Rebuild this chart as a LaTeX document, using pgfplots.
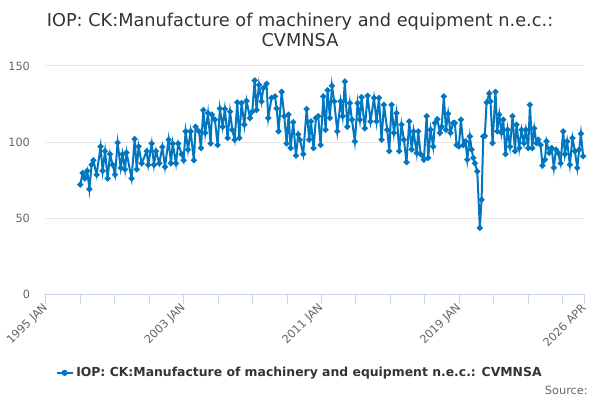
\documentclass[border=0pt]{standalone}
\usepackage{fontspec}
\setmainfont{DejaVu Sans}
\usepackage{pgfplots}
\pgfplotsset{compat=1.18}
\definecolor{linecol}{RGB}{0,119,192}
\definecolor{gridcol}{RGB}{230,230,230}
\definecolor{axiscol}{RGB}{204,214,235}
\definecolor{labcol}{RGB}{102,102,102}
\definecolor{titcol}{RGB}{51,51,51}
\begin{document}
\begin{tikzpicture}[x=1pt,y=1pt]
\useasboundingbox (0,0) rectangle (450,300);
\node[font=\fontsize{13.3}{15.5}\selectfont, text=titcol, align=center] at (225,277.5)
  {IOP: CK:Manufacture of machinery and equipment n.e.c.:\\CVMNSA};
\begin{axis}[
  at={(34.5pt,79.5pt)}, anchor=south west,
  scale only axis, width=403.5pt, height=171pt,
  xmin=1995, xmax=2026.25, ymin=0, ymax=150,
  /pgf/number format/assume math mode=true,
  axis x line*=bottom, axis y line*=left,
  y axis line style={draw=none},
  x axis line style={draw=axiscol, line width=0.75pt, -},
  ytick={0,50,100,150},
  ymajorgrids, grid style={gridcol, line width=0.75pt},
  ytick style={draw=none},
  yticklabel style={font=\fontsize{8.5}{10}\selectfont, text=labcol, xshift=-1pt},
  xtick={1995,2003,2011,2019,2026.25},
  xticklabels={1995 JAN,2003 JAN,2011 JAN,2019 JAN,2026 APR},
  minor xtick={1997,1999,2001,2005,2007,2009,2013,2015,2017,2021,2023,2025},
  xtick style={draw=axiscol, line width=0.75pt},
  tick align=outside, major tick length=7.5pt, minor tick length=7.5pt,
  xticklabel style={font=\fontsize{8.5}{10}\selectfont, text=labcol, rotate=45, anchor=east, inner sep=1pt, yshift=-1pt},
  legend style={at={(0.472,-0.346)}, anchor=center, draw=none, fill=none,
    font=\bfseries\fontsize{9.3}{11}\selectfont, text=titcol},
  legend cell align=left,
  legend image code/.code={\draw[linecol, line width=1.5pt] (0pt,0pt) -- (12pt,0pt);
     \fill[linecol] (6pt,0pt) circle (1.5pt);},
  clip=false,
]
\addplot[linecol, line width=1.5pt, mark=*, mark size=1.4pt, mark options={fill=linecol, draw=linecol}]
table {
1996.99 72
1997.13 79.6
1997.26 76
1997.40 81
1997.52 69
1997.65 85
1997.75 88
1997.94 78.5
1998.17 97
1998.29 81
1998.43 94
1998.58 76
1998.72 92
1998.87 85
1999.01 78.5
1999.16 99.5
1999.34 83
1999.45 92
1999.59 82
1999.68 93
1999.97 76
2000.15 102
2000.27 82
2000.38 97
2000.56 86
2000.85 94
2000.94 85
2001.14 99
2001.27 85
2001.39 94
2001.58 86
2001.76 96.7
2001.91 83.6
2002.12 101.5
2002.26 86
2002.36 99
2002.55 86
2002.68 99
2002.88 92
2002.99 88
2003.11 107
2003.25 95
2003.40 107
2003.59 88
2003.69 110
2003.89 107
2004.00 96
2004.14 121
2004.25 106
2004.41 119
2004.56 99
2004.64 118
2004.81 114.7
2004.97 98
2005.10 122
2005.26 110
2005.39 121.7
2005.55 102.6
2005.69 120
2005.82 108
2005.96 101.5
2006.11 126
2006.23 102.6
2006.36 125.6
2006.52 111.4
2006.65 127
2006.85 115.8
2006.98 120
2007.12 140.5
2007.23 121
2007.37 137.6
2007.52 126.7
2007.62 135.4
2007.81 138.3
2007.91 115.8
2008.10 129
2008.30 130
2008.40 122
2008.51 107
2008.69 133
2008.84 117
2008.98 99
2009.09 118
2009.21 96
2009.36 113
2009.52 91
2009.65 105
2009.75 101.5
2009.94 92
2010.14 121.7
2010.29 101.5
2010.39 113.6
2010.54 96
2010.68 115.8
2010.81 117
2010.95 98
2011.11 130
2011.24 108
2011.36 134
2011.49 115.8
2011.61 137
2011.74 126.7
2011.92 107
2012.11 126.7
2012.23 117
2012.36 139.8
2012.50 110
2012.65 125.6
2012.77 114.7
2012.94 100.4
2013.10 125.6
2013.23 114.7
2013.33 129.5
2013.52 109
2013.68 130.4
2013.85 113.6
2014.05 129
2014.20 113.6
2014.34 129
2014.49 101.5
2014.63 124.5
2014.82 108
2014.94 94
2015.07 124.5
2015.21 106
2015.36 119
2015.52 94
2015.65 111.4
2015.79 101.5
2015.94 86.7
2016.10 113.6
2016.24 95
2016.35 107
2016.53 92.8
2016.62 107
2016.76 92
2016.95 88.4
2017.11 117
2017.20 89.5
2017.34 108
2017.49 97
2017.59 112.5
2017.73 115
2017.88 106
2017.98 110
2018.11 130
2018.23 108
2018.36 118.6
2018.50 106
2018.65 112.5
2018.75 112.5
2018.85 98
2018.98 97
2019.10 114.7
2019.24 98
2019.37 100.4
2019.47 88.4
2019.62 103.7
2019.72 95
2019.82 89.5
2019.91 86
2020.05 80.7
2020.20 43.5
2020.30 62
2020.40 103.7
2020.49 104
2020.59 126
2020.75 132
2020.82 126.7
2020.94 99.3
2021.11 133
2021.21 107
2021.33 118
2021.46 106
2021.56 114.7
2021.69 92
2021.81 108
2021.95 97
2022.10 117
2022.24 94
2022.33 111.4
2022.49 96
2022.62 108
2022.76 99.3
2022.87 108
2023.01 96
2023.11 124.5
2023.24 96
2023.36 109
2023.49 99.3
2023.59 101.5
2023.73 98
2023.84 84.5
2023.98 88.4
2024.07 100.4
2024.23 92.8
2024.37 96
2024.50 83
2024.62 95
2024.75 92.8
2024.89 86
2025.04 107
2025.14 92
2025.27 100.4
2025.43 85
2025.58 102.6
2025.72 94
2025.86 83
2025.97 95
2026.07 105.5
2026.20 90.6
};
\addlegendentry{IOP: CK:Manufacture of machinery and equipment n.e.c.: CVMNSA}
\end{axis}
\node[anchor=south east, font=\fontsize{8.5}{10}\selectfont, text=labcol, inner sep=0pt] at (441,4) {Source:};
\end{tikzpicture}
\end{document}
